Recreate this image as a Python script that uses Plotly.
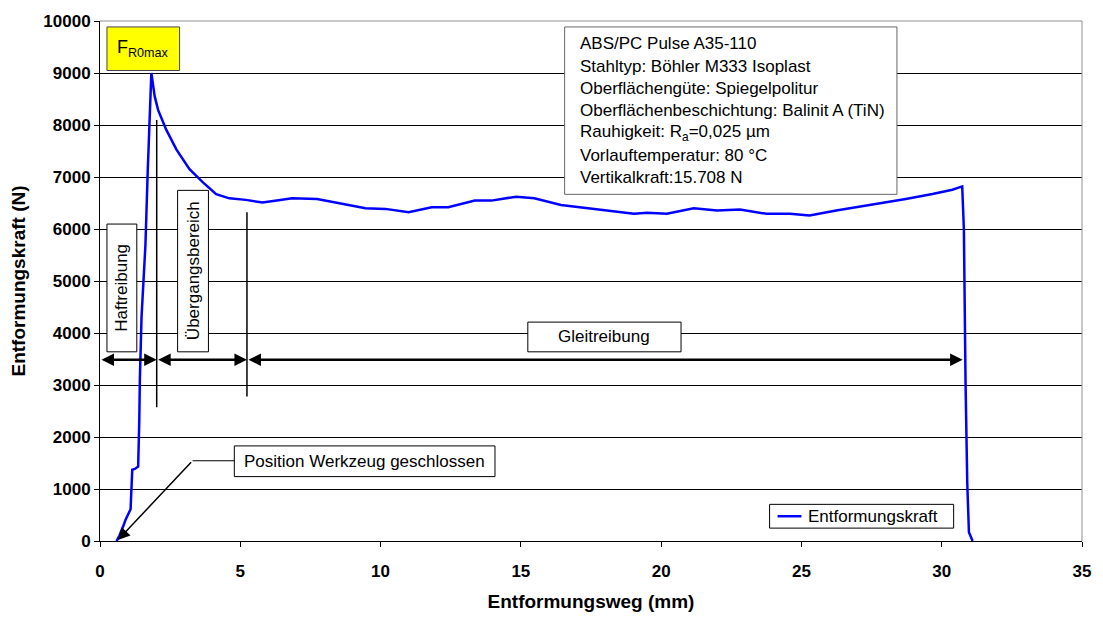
import plotly.graph_objects as go

# ---- data ----
weg_mm = [0.59, 0.69, 0.83, 0.92, 1.09, 1.12, 1.15, 1.24, 1.36, 1.40, 1.42, 1.48,
          1.54, 1.62, 1.70, 1.76, 1.80, 1.83, 1.95, 2.07, 2.36, 2.72, 3.19, 3.66,
          4.14, 4.61, 5.20, 5.79, 6.30, 6.85, 7.74, 8.51, 9.46, 10.17, 11.00, 11.82,
          12.41, 13.36, 13.95, 14.83, 15.48, 16.43, 17.61, 19.03, 19.50, 20.20, 21.16,
          22.00, 22.81, 23.76, 24.59, 25.29, 26.24, 27.54, 28.72, 29.67, 30.38, 30.73,
          30.79, 30.85, 30.91, 30.97, 31.10]
kraft_N = [0, 100, 290, 420, 610, 930, 1370, 1385, 1430, 2320, 3090, 4300,
           4900, 5700, 7100, 8000, 8600, 9000, 8550, 8290, 7910, 7530, 7150, 6900,
           6670, 6590, 6560, 6510, 6550, 6590, 6577, 6500, 6400, 6387, 6324, 6419,
           6419, 6546, 6546, 6622, 6590, 6463, 6387, 6292, 6311, 6292, 6400,
           6356, 6375, 6292, 6292, 6260, 6356, 6470, 6577, 6673, 6756, 6819,
           6000, 3030, 1120, 170, 0]
series_name = "Entformungskraft"

x_ticks = [0, 5, 10, 15, 20, 25, 30, 35]
y_ticks = [0, 1000, 2000, 3000, 4000, 5000, 6000, 7000, 8000, 9000, 10000]

info_lines = ["ABS/PC Pulse A35-110",
              "Stahltyp: Böhler M333 Isoplast",
              "Oberflächengüte: Spiegelpolitur",
              "Oberflächenbeschichtung: Balinit A (TiN)",
              "Rauhigkeit: R<sub>a</sub>=0,025 µm",
              "Vorlauftemperatur: 80 °C",
              "Vertikalkraft:15.708 N"]

FONT = "Arial, Liberation Sans, sans-serif"
BLUE = "#0000FF"

# plot area geometry (pixels) used to place annotations
L, R, T, B = 100, 1087, 17, 542
def X(px):
    return (px - L) / (R - L) * 35.0
def Y(py):
    return (B - py) / (B - T) * 10000.0

fig = go.Figure()
fig.add_trace(go.Scatter(x=weg_mm, y=kraft_N, mode="lines", name=series_name,
                         line=dict(color=BLUE, width=2.5), showlegend=False))

shapes = []
annotations = []

def box(x0, y0, x1, y1, fill="white", line="black", lw=1):
    shapes.append(dict(type="rect", xref="x", yref="y", x0=X(x0), x1=X(x1), y0=Y(y1), y1=Y(y0),
                       fillcolor=fill, line=dict(color=line, width=lw), layer="above"))

# boxes
box(107, 23, 180, 67, fill="#FFFF00", line="#444444")
box(567, 23, 901, 192, line="#666666")
box(107, 222, 137, 351)
box(178, 188, 209, 351)
box(530, 321, 684, 351)
box(235, 446, 497, 477)
# legend box
box(773, 505, 958, 529)
shapes.append(dict(type="line", xref="x", yref="y", x0=X(781), x1=X(805), y0=Y(517), y1=Y(517),
                   line=dict(color=BLUE, width=2.5), layer="above"))

# border top / right
shapes.append(dict(type="line", xref="paper", yref="paper", x0=0, x1=1, y0=1, y1=1,
                   line=dict(color="#909090", width=1)))
shapes.append(dict(type="line", xref="paper", yref="paper", x0=1, x1=1, y0=0, y1=1,
                   line=dict(color="#909090", width=1)))

# vertical separator lines
for px, a, b in [(157, 117, 407), (247.7, 210, 396)]:
    shapes.append(dict(type="line", xref="x", yref="y", x0=X(px), x1=X(px), y0=Y(a), y1=Y(b),
                       line=dict(color="black", width=1.5), layer="above"))
# elbow of "Position" pointer
shapes.append(dict(type="line", xref="x", yref="y", x0=X(193), x1=X(235), y0=Y(461), y1=Y(461),
                   line=dict(color="black", width=1.2), layer="above"))

# double arrows
for a, b in [(100, 157), (157, 247.7), (247.7, 967)]:
    annotations.append(dict(x=X(b), y=Y(359), ax=X(a), ay=Y(359), xref="x", yref="y",
                            axref="x", ayref="y", text="", showarrow=True, arrowhead=2,
                            arrowsize=1, arrowwidth=2.5, arrowcolor="black",
                            arrowside="end+start", standoff=0, startstandoff=0))
# pointer arrow
annotations.append(dict(x=X(118), y=Y(541), ax=X(193), ay=Y(461), xref="x", yref="y",
                        axref="x", ayref="y", text="", showarrow=True, arrowhead=2,
                        arrowsize=1.6, arrowwidth=1.5, arrowcolor="black", standoff=0))

def txt(px, py, t, size=17, angle=0, xanchor="center"):
    annotations.append(dict(x=X(px), y=Y(py), xref="x", yref="y", text=t, showarrow=False,
                            textangle=angle, xanchor=xanchor, yanchor="middle",
                            font=dict(family=FONT, size=size, color="black")))

txt(143.5, 45, "F<sub>R0max</sub>", size=18)
for py, line in zip([40, 62.7, 85, 107.7, 130, 152.3, 175.5], info_lines):
    txt(580, py, line, size=17, xanchor="left")
txt(122, 286.5, "Haftreibung", angle=-90)
txt(193.5, 269.5, "Übergangsbereich", angle=-90)
txt(607, 336, "Gleitreibung")
txt(366, 461.5, "Position Werkzeug geschlossen")
txt(810, 517, series_name, xanchor="left")

fig.update_layout(
    width=1103, height=621,
    margin=dict(l=L, r=1103 - R, t=T, b=621 - B),
    paper_bgcolor="white", plot_bgcolor="white",
    font=dict(family=FONT, color="black"),
    shapes=shapes, annotations=annotations,
    showlegend=False,
    xaxis=dict(range=[0, 35], tickvals=x_ticks, ticktext=[str(v) for v in x_ticks],
               showgrid=False, zeroline=False, showline=True, linecolor="black", linewidth=1,
               ticks="outside", ticklen=5, tickcolor="black", ticklabelstandoff=10,
               tickfont=dict(family=FONT, size=17, color="black", weight="bold"),
               title=dict(text="<b>Entformungsweg (mm)</b>", font=dict(family=FONT, size=19),
                          standoff=14)),
    yaxis=dict(range=[0, 10000], tickvals=y_ticks, ticktext=[str(v) for v in y_ticks],
               showgrid=True, gridcolor="black", gridwidth=1, zeroline=False,
               showline=True, linecolor="black", linewidth=1,
               ticks="outside", ticklen=5, tickcolor="black",
               tickfont=dict(family=FONT, size=17, color="black", weight="bold"),
               title=dict(text="<b>Entformungskraft (N)</b>", font=dict(family=FONT, size=19),
                          standoff=12)),
)

fig.write_html("out.html")
